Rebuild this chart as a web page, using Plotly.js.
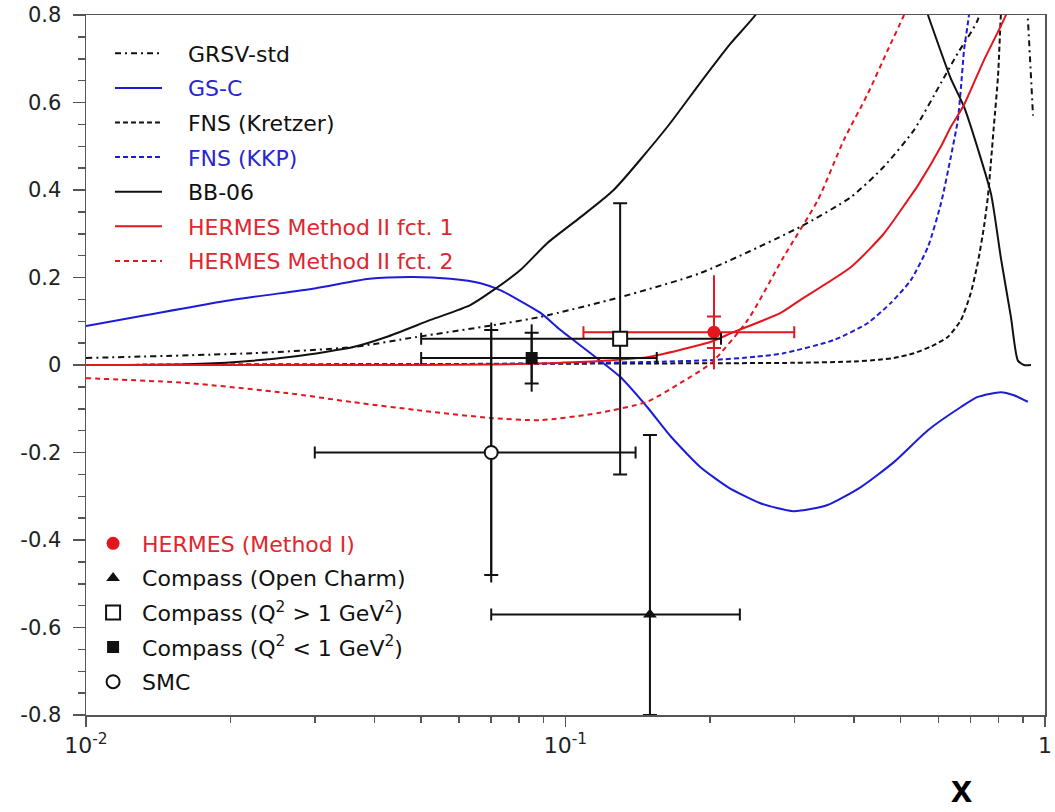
<!DOCTYPE html>
<html><head><meta charset="utf-8">
<script src="https://cdn.plot.ly/plotly-3.0.1.min.js"></script>
<style>html,body{margin:0;padding:0;background:#fff}</style>
</head><body>
<div id="chart" style="width:1055px;height:812px"></div>
<script>
// ---------- curves (x, y) ----------
const grsvX = [0.01, 0.0223, 0.0361, 0.0489, 0.0707, 0.0887, 0.130, 0.191, 0.309, 0.394, 0.461, 0.533, 0.607, 0.658, 0.724, 0.80, 0.88, 0.921, 0.944];
const grsvY = [0.016, 0.027, 0.041, 0.064, 0.091, 0.11, 0.155, 0.21, 0.316, 0.384, 0.453, 0.537, 0.645, 0.713, 0.789, 1.0, 1.1, 0.79, 0.57];

const gscX = [0.01, 0.02, 0.03, 0.039, 0.048, 0.0575, 0.0665, 0.0731, 0.0887, 0.0976, 0.13, 0.148, 0.166, 0.191, 0.218, 0.255, 0.299, 0.352, 0.413, 0.484, 0.57, 0.668, 0.724, 0.809, 0.861, 0.921];
const gscY = [0.089, 0.148, 0.175, 0.197, 0.201, 0.197, 0.187, 0.171, 0.119, 0.08, -0.027, -0.096, -0.164, -0.233, -0.279, -0.316, -0.334, -0.32, -0.279, -0.222, -0.149, -0.096, -0.073, -0.062, -0.069, -0.084];

const kretzerX = [0.01, 0.05, 0.1, 0.2, 0.3, 0.4, 0.45, 0.484, 0.533, 0.58, 0.627, 0.668, 0.70, 0.724, 0.746, 0.76, 0.772, 0.782, 0.798, 0.809, 0.83];
const kretzerY = [0.0, 0.002, 0.003, 0.004, 0.005, 0.008, 0.012, 0.016, 0.027, 0.043, 0.064, 0.103, 0.164, 0.233, 0.316, 0.384, 0.469, 0.544, 0.66, 0.8, 1.0];

const kkpX = [0.01, 0.05, 0.1, 0.15, 0.2, 0.25, 0.285, 0.3626, 0.427, 0.477, 0.525, 0.570, 0.607, 0.636, 0.658, 0.668, 0.678, 0.694, 0.72];
const kkpY = [0.0, 0.002, 0.004, 0.007, 0.011, 0.019, 0.027, 0.057, 0.096, 0.142, 0.194, 0.27, 0.37, 0.475, 0.56, 0.635, 0.72, 0.8, 1.0];

const bbX = [0.01, 0.0162, 0.0206, 0.0274, 0.0361, 0.0423, 0.0523, 0.0633, 0.0707, 0.0805, 0.0917, 0.1075, 0.126, 0.163, 0.191, 0.221, 0.249, 0.32, 0.42, 0.5, 0.570, 0.636, 0.678, 0.724, 0.772, 0.809, 0.849, 0.878, 0.904, 0.935];
const bbY = [0.0, 0.002, 0.007, 0.02, 0.041, 0.064, 0.103, 0.137, 0.171, 0.217, 0.279, 0.338, 0.4, 0.544, 0.645, 0.735, 0.8, 0.98, 1.05, 0.98, 0.8, 0.655, 0.59, 0.495, 0.39, 0.245, 0.11, 0.01, 0.0, 0.0];

const fct1X = [0.01, 0.05, 0.07, 0.0917, 0.1183, 0.148, 0.201, 0.224, 0.281, 0.309, 0.394, 0.461, 0.5176, 0.543, 0.607, 0.636, 0.678, 0.746, 0.829, 0.9];
const fct1Y = [0.0, 0.0, 0.001, 0.004, 0.009, 0.018, 0.053, 0.075, 0.119, 0.149, 0.224, 0.30, 0.377, 0.41, 0.5, 0.544, 0.595, 0.697, 0.8, 0.92];

const fct2X = [0.01, 0.0162, 0.0262, 0.0361, 0.0489, 0.0697, 0.0887, 0.1166, 0.148, 0.1737, 0.201, 0.24, 0.285, 0.336, 0.3805, 0.427, 0.47, 0.508, 0.55];
const fct2Y = [-0.03, -0.041, -0.064, -0.085, -0.103, -0.121, -0.126, -0.11, -0.084, -0.041, 0.004, 0.103, 0.247, 0.377, 0.514, 0.62, 0.72, 0.8, 0.9];

// ---------- data points ----------
// HERMES (Method I)
const hermesX = [0.204], hermesY = [0.075];
const hermesXplus = [0.096], hermesXminus = [0.095];
const hermesStat = [0.036];
const hermesTotPlus = [0.13], hermesTotMinus = [0.085];
// Compass (Open Charm)
const ocX = [0.15], ocY = [-0.57];
const ocXplus = [0.081], ocXminus = [0.08];
const ocYplus = [0.41], ocYminus = [0.23];
// Compass Q2 > 1
const hiX = [0.13], hiY = [0.06];
const hiXplus = [0.081], hiXminus = [0.08];
const hiErr = [0.31];
// Compass Q2 < 1
const loX = [0.085], loY = [0.016];
const loXplus = [0.07], loXminus = [0.035];
const loStat = [0.058], loTot = [0.077];
// SMC
const smcX = [0.07], smcY = [-0.20];
const smcXplus = [0.07], smcXminus = [0.04];
const smcStat = [0.28], smcTot = [0.297];

// ---------- ticks ----------
const yTickVals = [-0.8, -0.6, -0.4, -0.2, 0, 0.2, 0.4, 0.6, 0.8];
const yTickText = ["-0.8", "-0.6", "-0.4", "-0.2", "0", "0.2", "0.4", "0.6", "0.8"];
const xTickVals = [0.01, 0.1, 1];
const xTickText = ["10<sup>-2</sup>", "10<sup>-1</sup>", "1"];

const RED = '#e3161e', BLUE = '#1c1cd8', BLK = '#111111';
const PAD = '&nbsp;&nbsp;&nbsp;';

const yMinor = [];
for (let i = -16; i <= 16; i++) { if (i % 4 !== 0) yMinor.push(+(i * 0.05).toFixed(2)); }
const xMinor = [];
[0.01, 0.1].forEach(d => { for (let k = 2; k <= 9; k++) xMinor.push(+(d * k).toPrecision(3)); });

function curve(x, y, name, color, dash) {
  return {x: x, y: y, type: 'scatter', mode: 'lines', name: name,
    line: {color: color, width: 2, dash: dash, shape: 'spline', smoothing: 0.6},
    legendgroup: name, hoverinfo: 'x+y'};
}

const traces = [
  curve(grsvX, grsvY, PAD + 'GRSV-std', BLK, '6px,4px,2px,4px'),
  curve(gscX, gscY, PAD + '<span style="color:#2626d0">GS-C</span>', BLUE, 'solid'),
  curve(kretzerX, kretzerY, PAD + 'FNS (Kretzer)', BLK, '5px,3px'),
  curve(kkpX, kkpY, PAD + '<span style="color:#2626d0">FNS (KKP)</span>', BLUE, '5px,3px'),
  curve(bbX, bbY, PAD + 'BB-06', BLK, 'solid'),
  curve(fct1X, fct1Y, PAD + '<span style="color:#e0262e">HERMES Method II fct. 1</span>', RED, 'solid'),
  curve(fct2X, fct2Y, PAD + '<span style="color:#e0262e">HERMES Method II fct. 2</span>', RED, '5px,4px'),
];

const aux = {size: 1, color: 'rgba(0,0,0,0)'};
// auxiliary total-error bars (no caps)
traces.push({x: hermesX, y: hermesY, mode: 'markers', marker: aux, showlegend: false, hoverinfo: 'skip',
  error_y: {type: 'data', symmetric: false, array: hermesTotPlus, arrayminus: hermesTotMinus, color: RED, thickness: 2, width: 0}});
traces.push({x: loX, y: loY, mode: 'markers', marker: aux, showlegend: false, hoverinfo: 'skip',
  error_y: {type: 'data', array: loTot, color: BLK, thickness: 2, width: 0}});
traces.push({x: smcX, y: smcY, mode: 'markers', marker: aux, showlegend: false, hoverinfo: 'skip',
  error_y: {type: 'data', array: smcTot, color: BLK, thickness: 2, width: 0}});

function pt(x, y, name, marker, ex, ey, grp) {
  return {x: x, y: y, type: 'scatter', mode: 'markers', name: name, marker: marker,
    error_x: ex, error_y: ey, legend: 'legend2', legendgroup: grp};
}
traces.push(pt(hermesX, hermesY, '<span style="color:#e0262e">HERMES (Method I)</span>',
  {symbol: 'circle', size: 13, color: RED},
  {type: 'data', symmetric: false, array: hermesXplus, arrayminus: hermesXminus, color: RED, thickness: 2, width: 6},
  {type: 'data', array: hermesStat, color: RED, thickness: 2, width: 7}, 'g1'));
traces.push(pt(ocX, ocY, 'Compass (Open Charm)',
  {symbol: 'triangle-up', size: 12, color: BLK},
  {type: 'data', symmetric: false, array: ocXplus, arrayminus: ocXminus, color: BLK, thickness: 2, width: 6},
  {type: 'data', symmetric: false, array: ocYplus, arrayminus: ocYminus, color: BLK, thickness: 2, width: 7}, 'g2'));
traces.push(pt(hiX, hiY, 'Compass (Q<sup>2</sup> &gt; 1 GeV<sup>2</sup>)',
  {symbol: 'square', size: 14, color: '#ffffff', line: {color: BLK, width: 2}},
  {type: 'data', symmetric: false, array: hiXplus, arrayminus: hiXminus, color: BLK, thickness: 2, width: 6},
  {type: 'data', array: hiErr, color: BLK, thickness: 2, width: 7}, 'g3'));
traces.push(pt(loX, loY, 'Compass (Q<sup>2</sup> &lt; 1 GeV<sup>2</sup>)',
  {symbol: 'square', size: 12, color: BLK},
  {type: 'data', symmetric: false, array: loXplus, arrayminus: loXminus, color: BLK, thickness: 2, width: 6},
  {type: 'data', array: loStat, color: BLK, thickness: 2, width: 7}, 'g4'));
traces.push(pt(smcX, smcY, 'SMC',
  {symbol: 'circle', size: 13, color: '#ffffff', line: {color: BLK, width: 2}},
  {type: 'data', symmetric: false, array: smcXplus, arrayminus: smcXminus, color: BLK, thickness: 2, width: 6},
  {type: 'data', array: smcStat, color: BLK, thickness: 2, width: 7}, 'g5'));

const layout = {
  width: 1055, height: 812,
  margin: {l: 86, r: 10, t: 15, b: 97},
  paper_bgcolor: '#ffffff', plot_bgcolor: '#ffffff',
  font: {family: 'DejaVu Sans', color: '#111'},
  xaxis: {type: 'log', range: [-2, 0], showgrid: false, zeroline: false,
    showline: true, linecolor: '#555', linewidth: 1.5, mirror: true,
    ticks: 'outside', ticklen: 10, tickwidth: 1.5, tickcolor: '#555',
    tickmode: 'array', tickvals: xTickVals, ticktext: xTickText,
    tickfont: {family: 'DejaVu Sans', size: 22, color: '#222'},
    minor: {tickmode: 'array', tickvals: xMinor, ticks: 'outside', ticklen: 6, tickwidth: 1.5, tickcolor: '#555'}},
  yaxis: {range: [-0.8, 0.8], showgrid: false, zeroline: false,
    showline: true, linecolor: '#555', linewidth: 1.5, mirror: true,
    ticks: 'outside', ticklen: 12, tickwidth: 1.5, tickcolor: '#555',
    tickmode: 'array', tickvals: yTickVals, ticktext: yTickText, ticklabelstandoff: 7,
    tickfont: {family: 'DejaVu Sans', size: 21, color: '#222'},
    minor: {tickmode: 'array', tickvals: yMinor, ticks: 'outside', ticklen: 7, tickwidth: 1.5, tickcolor: '#555'}},
  legend: {x: 0.025, y: 0.975, xanchor: 'left', yanchor: 'top', bgcolor: 'rgba(0,0,0,0)',
    font: {family: 'DejaVu Sans', size: 22, color: '#111'}, itemwidth: 47,
    traceorder: 'grouped', tracegroupgap: 3},
  legend2: {x: -0.002, y: 0.275, xanchor: 'left', yanchor: 'top', bgcolor: 'rgba(0,0,0,0)',
    font: {family: 'DejaVu Sans', size: 22, color: '#111'}, itemwidth: 48,
    traceorder: 'grouped', tracegroupgap: 3},
  annotations: [{text: '<b>x</b>', xref: 'paper', yref: 'paper', x: 0.913, y: -0.1386,
    xanchor: 'center', yanchor: 'bottom', showarrow: false,
    font: {family: 'Liberation Sans Narrow, Liberation Sans', size: 38, color: '#000'}}],
  showlegend: true
};

Plotly.newPlot('chart', traces, layout, {displayModeBar: false, staticPlot: true});
</script>
</body></html>
